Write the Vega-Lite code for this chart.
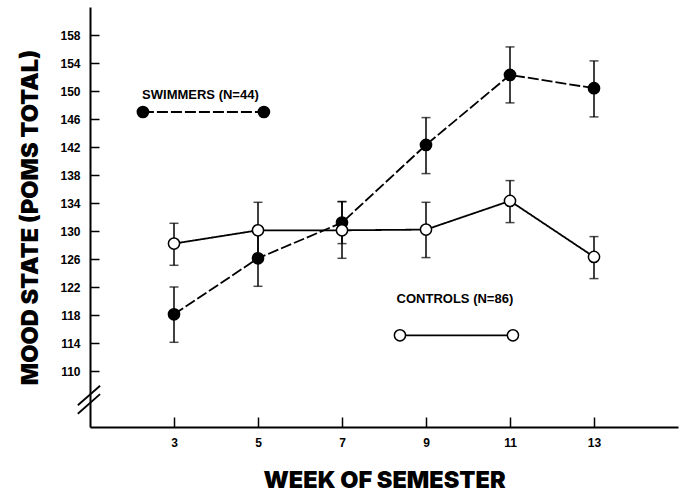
{
  "$schema": "https://vega.github.io/schema/vega-lite/v6.json",
  "width": 588,
  "height": 420,
  "autosize": "none",
  "padding": {"left": 90, "top": 7, "right": 7, "bottom": 66},
  "background": "white",
  "config": {
    "view": {"stroke": null},
    "axis": {
      "grid": false,
      "domainColor": "black",
      "domainWidth": 2,
      "tickColor": "black",
      "tickWidth": 1.5,
      "labelFont": "Liberation Sans",
      "labelFontWeight": "bold",
      "labelFontSize": 12,
      "labelColor": "black",
      "titleFont": "Inter",
      "titleFontWeight": 900,
      "titleFontSize": 23.5,
      "titleColor": "black"
    }
  },
  "datasets": {
    "main": [
      {"group": "Swimmers", "week": 3, "mean": 118.1, "lo": 114.1, "hi": 122.0},
      {"group": "Swimmers", "week": 5, "mean": 126.1, "lo": 122.1, "hi": 130.0},
      {"group": "Swimmers", "week": 7, "mean": 131.2, "lo": 128.2, "hi": 134.2},
      {"group": "Swimmers", "week": 9, "mean": 142.3, "lo": 138.2, "hi": 146.2},
      {"group": "Swimmers", "week": 11, "mean": 152.3, "lo": 148.3, "hi": 156.3},
      {"group": "Swimmers", "week": 13, "mean": 150.4, "lo": 146.3, "hi": 154.3},
      {"group": "Controls", "week": 3, "mean": 128.2, "lo": 125.1, "hi": 131.1},
      {"group": "Controls", "week": 5, "mean": 130.1, "lo": 126.1, "hi": 134.1},
      {"group": "Controls", "week": 7, "mean": 130.1, "lo": 126.1, "hi": 134.2},
      {"group": "Controls", "week": 9, "mean": 130.2, "lo": 126.2, "hi": 134.1},
      {"group": "Controls", "week": 11, "mean": 134.3, "lo": 131.2, "hi": 137.2},
      {"group": "Controls", "week": 13, "mean": 126.3, "lo": 123.2, "hi": 129.2}
    ],
    "legend": [
      {"group": "Swimmers", "x": 2.26, "y": 147.0},
      {"group": "Swimmers", "x": 5.14, "y": 147.0},
      {"group": "Controls", "x": 8.38, "y": 115.1},
      {"group": "Controls", "x": 11.07, "y": 115.1}
    ],
    "legendText": [
      {"group": "Swimmers", "x": 2.24, "y": 149.5, "label": "SWIMMERS (N=44)"},
      {"group": "Controls", "x": 8.3, "y": 120.3, "label": "CONTROLS (N=86)"}
    ]
  },
  "encoding": {
    "x": {
      "type": "quantitative",
      "scale": {"domain": [1, 15], "nice": false, "zero": false},
      "axis": {
        "title": "WEEK OF SEMESTER",
        "values": [3, 5, 7, 9, 11, 13],
        "tickSize": -10,
        "labelPadding": 20,
        "titlePadding": 20
      }
    },
    "y": {
      "type": "quantitative",
      "scale": {"domain": [102, 162], "nice": false, "zero": false},
      "axis": {
        "title": "MOOD STATE (POMS TOTAL)",
        "values": [110, 114, 118, 122, 126, 130, 134, 138, 142, 146, 150, 154, 158],
        "tickSize": -9,
        "labelPadding": 19,
        "titlePadding": 17
      }
    }
  },
  "layer": [
    {
      "data": {"name": "main"},
      "mark": {"type": "rule", "color": "black", "strokeWidth": 1.5},
      "encoding": {"x": {"field": "week"}, "y": {"field": "lo"}, "y2": {"field": "hi"}}
    },
    {
      "data": {"name": "main"},
      "mark": {"type": "tick", "orient": "horizontal", "color": "black", "size": 9, "thickness": 1.5},
      "encoding": {"x": {"field": "week"}, "y": {"field": "lo"}}
    },
    {
      "data": {"name": "main"},
      "mark": {"type": "tick", "orient": "horizontal", "color": "black", "size": 9, "thickness": 1.5},
      "encoding": {"x": {"field": "week"}, "y": {"field": "hi"}}
    },
    {
      "data": {"name": "main"},
      "mark": {"type": "line", "color": "black", "strokeWidth": 1.8},
      "encoding": {
        "x": {"field": "week"},
        "y": {"field": "mean"},
        "detail": {"field": "group"},
        "strokeDash": {"field": "group", "type": "nominal", "scale": {"domain": ["Swimmers", "Controls"], "range": [[11, 3], [1, 0]]}, "legend": null}
      }
    },
    {
      "data": {"name": "legend"},
      "mark": {"type": "line", "color": "black", "strokeWidth": 1.8},
      "encoding": {
        "x": {"field": "x"},
        "y": {"field": "y"},
        "detail": {"field": "group"},
        "strokeDash": {"field": "group", "type": "nominal", "legend": null}
      }
    },
    {
      "data": {"name": "main"},
      "mark": {"type": "point", "shape": "circle", "size": 125, "stroke": "black", "strokeWidth": 1.5, "opacity": 1, "filled": false},
      "encoding": {
        "x": {"field": "week"},
        "y": {"field": "mean"},
        "fill": {"field": "group", "type": "nominal", "scale": {"domain": ["Swimmers", "Controls"], "range": ["black", "white"]}, "legend": null}
      }
    },
    {
      "data": {"name": "legend"},
      "mark": {"type": "point", "shape": "circle", "size": 125, "stroke": "black", "strokeWidth": 1.5, "opacity": 1, "filled": false},
      "encoding": {
        "x": {"field": "x"},
        "y": {"field": "y"},
        "fill": {"field": "group", "type": "nominal", "legend": null}
      }
    },
    {
      "data": {"name": "legendText"},
      "mark": {"type": "text", "align": "left", "baseline": "middle", "font": "Liberation Sans", "fontWeight": "bold", "fontSize": 13, "color": "black"},
      "encoding": {"x": {"field": "x"}, "y": {"field": "y"}, "text": {"field": "label"}}
    },
    {
      "data": {"values": [{}]},
      "mark": {"type": "rule", "color": "black", "strokeWidth": 1.8, "clip": false},
      "encoding": {"x": {"datum": 0.71}, "y": {"datum": 105.1}, "x2": {"datum": 1.24}, "y2": {"datum": 107.9}}
    },
    {
      "data": {"values": [{}]},
      "mark": {"type": "rule", "color": "black", "strokeWidth": 1.8, "clip": false},
      "encoding": {"x": {"datum": 0.71}, "y": {"datum": 103.9}, "x2": {"datum": 1.24}, "y2": {"datum": 106.7}}
    }
  ]
}
